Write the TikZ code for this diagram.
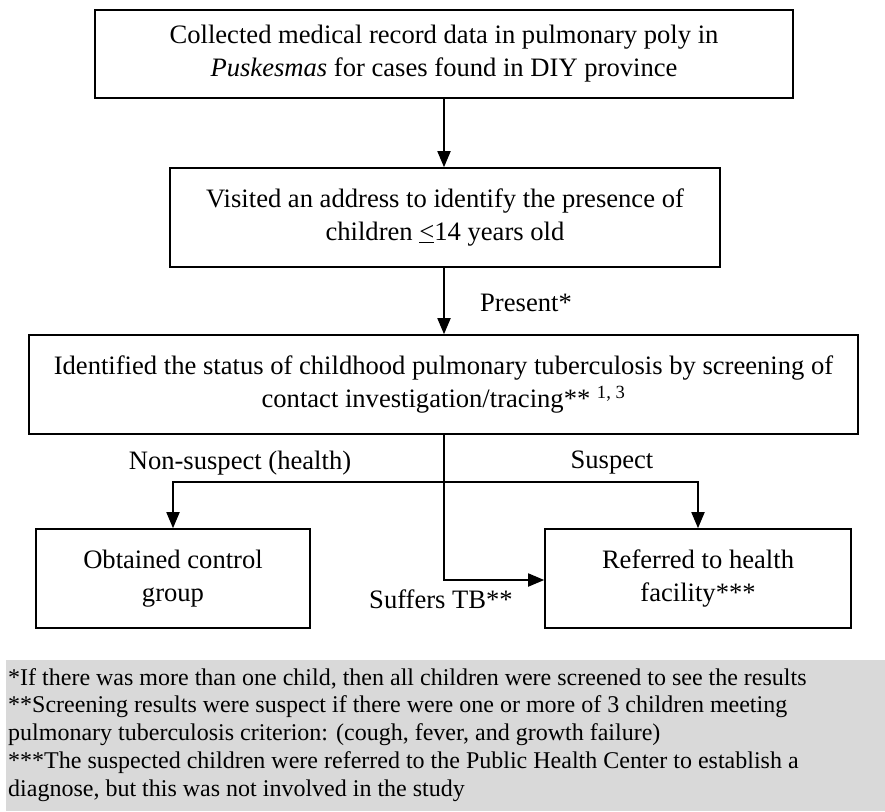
\documentclass[tikz,border=0pt]{standalone}
\usepackage{fontspec}
\setmainfont{Liberation Serif}
\usetikzlibrary{arrows.meta,calc}
\definecolor{notegray}{RGB}{217,217,217}
\begin{document}
\begin{tikzpicture}[x=1pt,y=1pt,
  box/.style={draw,line width=1.6pt,minimum width=#1,minimum height=99pt,align=center,inner sep=0pt,
    font=\fontsize{26.6}{33}\selectfont},
  lbl/.style={font=\fontsize{26.6}{30}\selectfont,inner sep=0pt},
  conn/.style={line width=1.8pt,-{Triangle[length=16pt,width=13pt]}},
  plain/.style={line width=1.8pt}]
\useasboundingbox (0,0) rectangle (885,-811);
\fill[notegray] (6,-660) rectangle (885,-811);
\node[box=698pt,minimum height=88pt] (b1) at (444,-54) {Collected medical record data in pulmonary poly in\\\textit{Puskesmas} for cases found in DIY province};
\node[box=550pt] (b2) at (445,-217.5) {Visited an address to identify the presence of\\children \underline{<}14 years old};
\node[box=829pt] (b3) at (443.5,-384.5) {Identified the status of childhood pulmonary tuberculosis by screening of\\contact investigation/tracing** \textsuperscript{1, 3}};
\node[box=274pt] (b4) at (173,-578.5) {Obtained control\\group};
\node[box=306pt] (b5) at (698,-578.5) {Referred to health\\facility***};
\coordinate (j) at (444,-482);
\coordinate (jl) at (173,-482);
\coordinate (jr) at (698,-482);
\coordinate (jd) at (444,-580);
\draw[conn] (b1.south -| 444,0) -- (b2.north -| 444,0);
\draw[conn] (b2.south -| 444,0) -- (b3.north -| 444,0);
\draw[plain] (b3.south -| 444,0) -- (j);
\draw[conn] (j) -- (jl) -- (b4.north);
\draw[conn] (j) -- (jr) -- (b5.north);
\draw[conn] (j) -- (jd) -- (jd -| b5.west);
\node[lbl,anchor=west] (present) at (480,-303) {Present*};
\node[lbl] (nons) at (240,-463) {Non-suspect (health)};
\node[lbl] (susp) at (612,-463) {Suspect};
\node[lbl] (suff) at (441,-599) {Suffers TB**};
\node[anchor=north west,align=left,inner sep=0pt,font=\fontsize{24}{27.8}\selectfont] (notes) at (8,-668)
{*If there was more than one child, then all children were screened to see the results\\
**Screening results were suspect if there were one or more of 3 children meeting\\
pulmonary tuberculosis criterion: (cough, fever, and growth failure)\\
***The suspected children were referred to the Public Health Center to establish a\\
diagnose, but this was not involved in the study};
\end{tikzpicture}
\end{document}
